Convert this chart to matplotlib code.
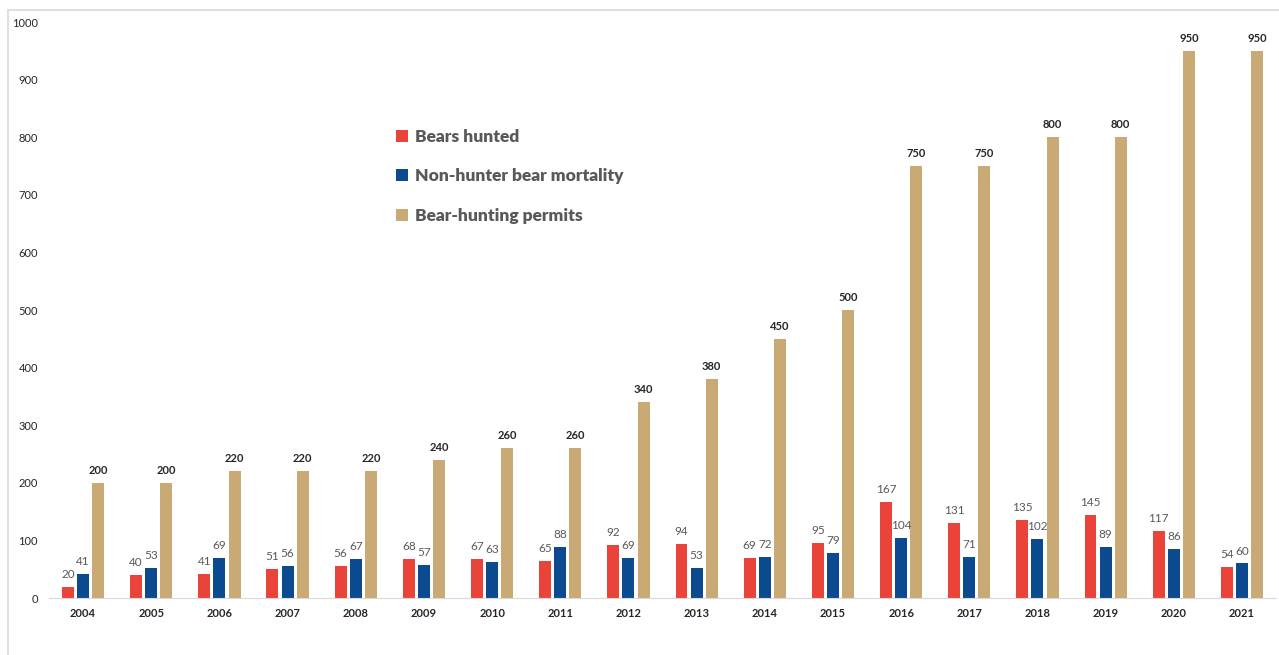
import numpy as np
import matplotlib
matplotlib.use('Agg')
import matplotlib.pyplot as plt
from matplotlib.lines import Line2D

years = ['2004', '2005', '2006', '2007', '2008', '2009', '2010', '2011', '2012',
         '2013', '2014', '2015', '2016', '2017', '2018', '2019', '2020', '2021']
bears_hunted = [20, 40, 41, 51, 56, 68, 67, 65, 92, 94, 69, 95, 167, 131, 135, 145, 117, 54]
non_hunter = [41, 53, 69, 56, 67, 57, 63, 88, 69, 53, 72, 79, 104, 71, 102, 89, 86, 60]
permits = [200, 200, 220, 220, 220, 240, 260, 260, 340, 380, 450, 500, 750, 750, 800, 800, 950, 950]

red = '#E9433A'
blue = '#0B4A8E'
tan = '#C9AA75'

plt.rcParams['font.family'] = ['Lato', 'DejaVu Sans']

fig = plt.figure(figsize=(12.79, 6.55), dpi=100)
ax = fig.add_axes([0.0383, 0.087, 0.9594, 0.879])

x = np.arange(len(years))
w = 0.175
off = 0.222

b1 = ax.bar(x - off, bears_hunted, w, color=red, label='Bears hunted')
b2 = ax.bar(x, non_hunter, w, color=blue, label='Non-hunter bear mortality')
b3 = ax.bar(x + off, permits, w, color=tan, label='Bear-hunting permits')

ax.bar_label(b1, padding=5, fontsize=8.5, color='#595959')
ax.bar_label(b2, padding=5, fontsize=8.5, color='#595959')
ax.bar_label(b3, padding=5, fontsize=8, color='#262626', fontweight='bold')

ax.set_xlim(-0.5, len(years) - 0.5)
ax.set_ylim(0, 1000)
ax.set_xticks(x)
ax.set_xticklabels(years, fontsize=8, color='#262626', fontweight='bold')
ax.set_yticks(range(0, 1001, 100))
ax.tick_params(axis='y', labelsize=8, labelcolor='#262626', length=0, pad=8)
ax.tick_params(axis='x', length=0, pad=7)

for s in ['top', 'right', 'left']:
    ax.spines[s].set_visible(False)
ax.spines['bottom'].set_color('#d9d9d9')

leg = ax.legend(loc='upper left', bbox_to_anchor=(0.27, 0.842), frameon=False,
                fontsize=12.5, labelspacing=1.35, handlelength=0.7, handleheight=0.7,
                handletextpad=0.4)
for t in leg.get_texts():
    t.set_color('#595959')
    t.set_fontweight('heavy')

# light frame around chart (left and top edges)
fig.add_artist(Line2D([8 / 1279, 8 / 1279], [0, 1 - 10 / 655], color='#d9d9d9', lw=1.2))
fig.add_artist(Line2D([8 / 1279, 1], [1 - 10 / 655, 1 - 10 / 655], color='#d9d9d9', lw=1.2))

plt.savefig('out.png', dpi=100)
